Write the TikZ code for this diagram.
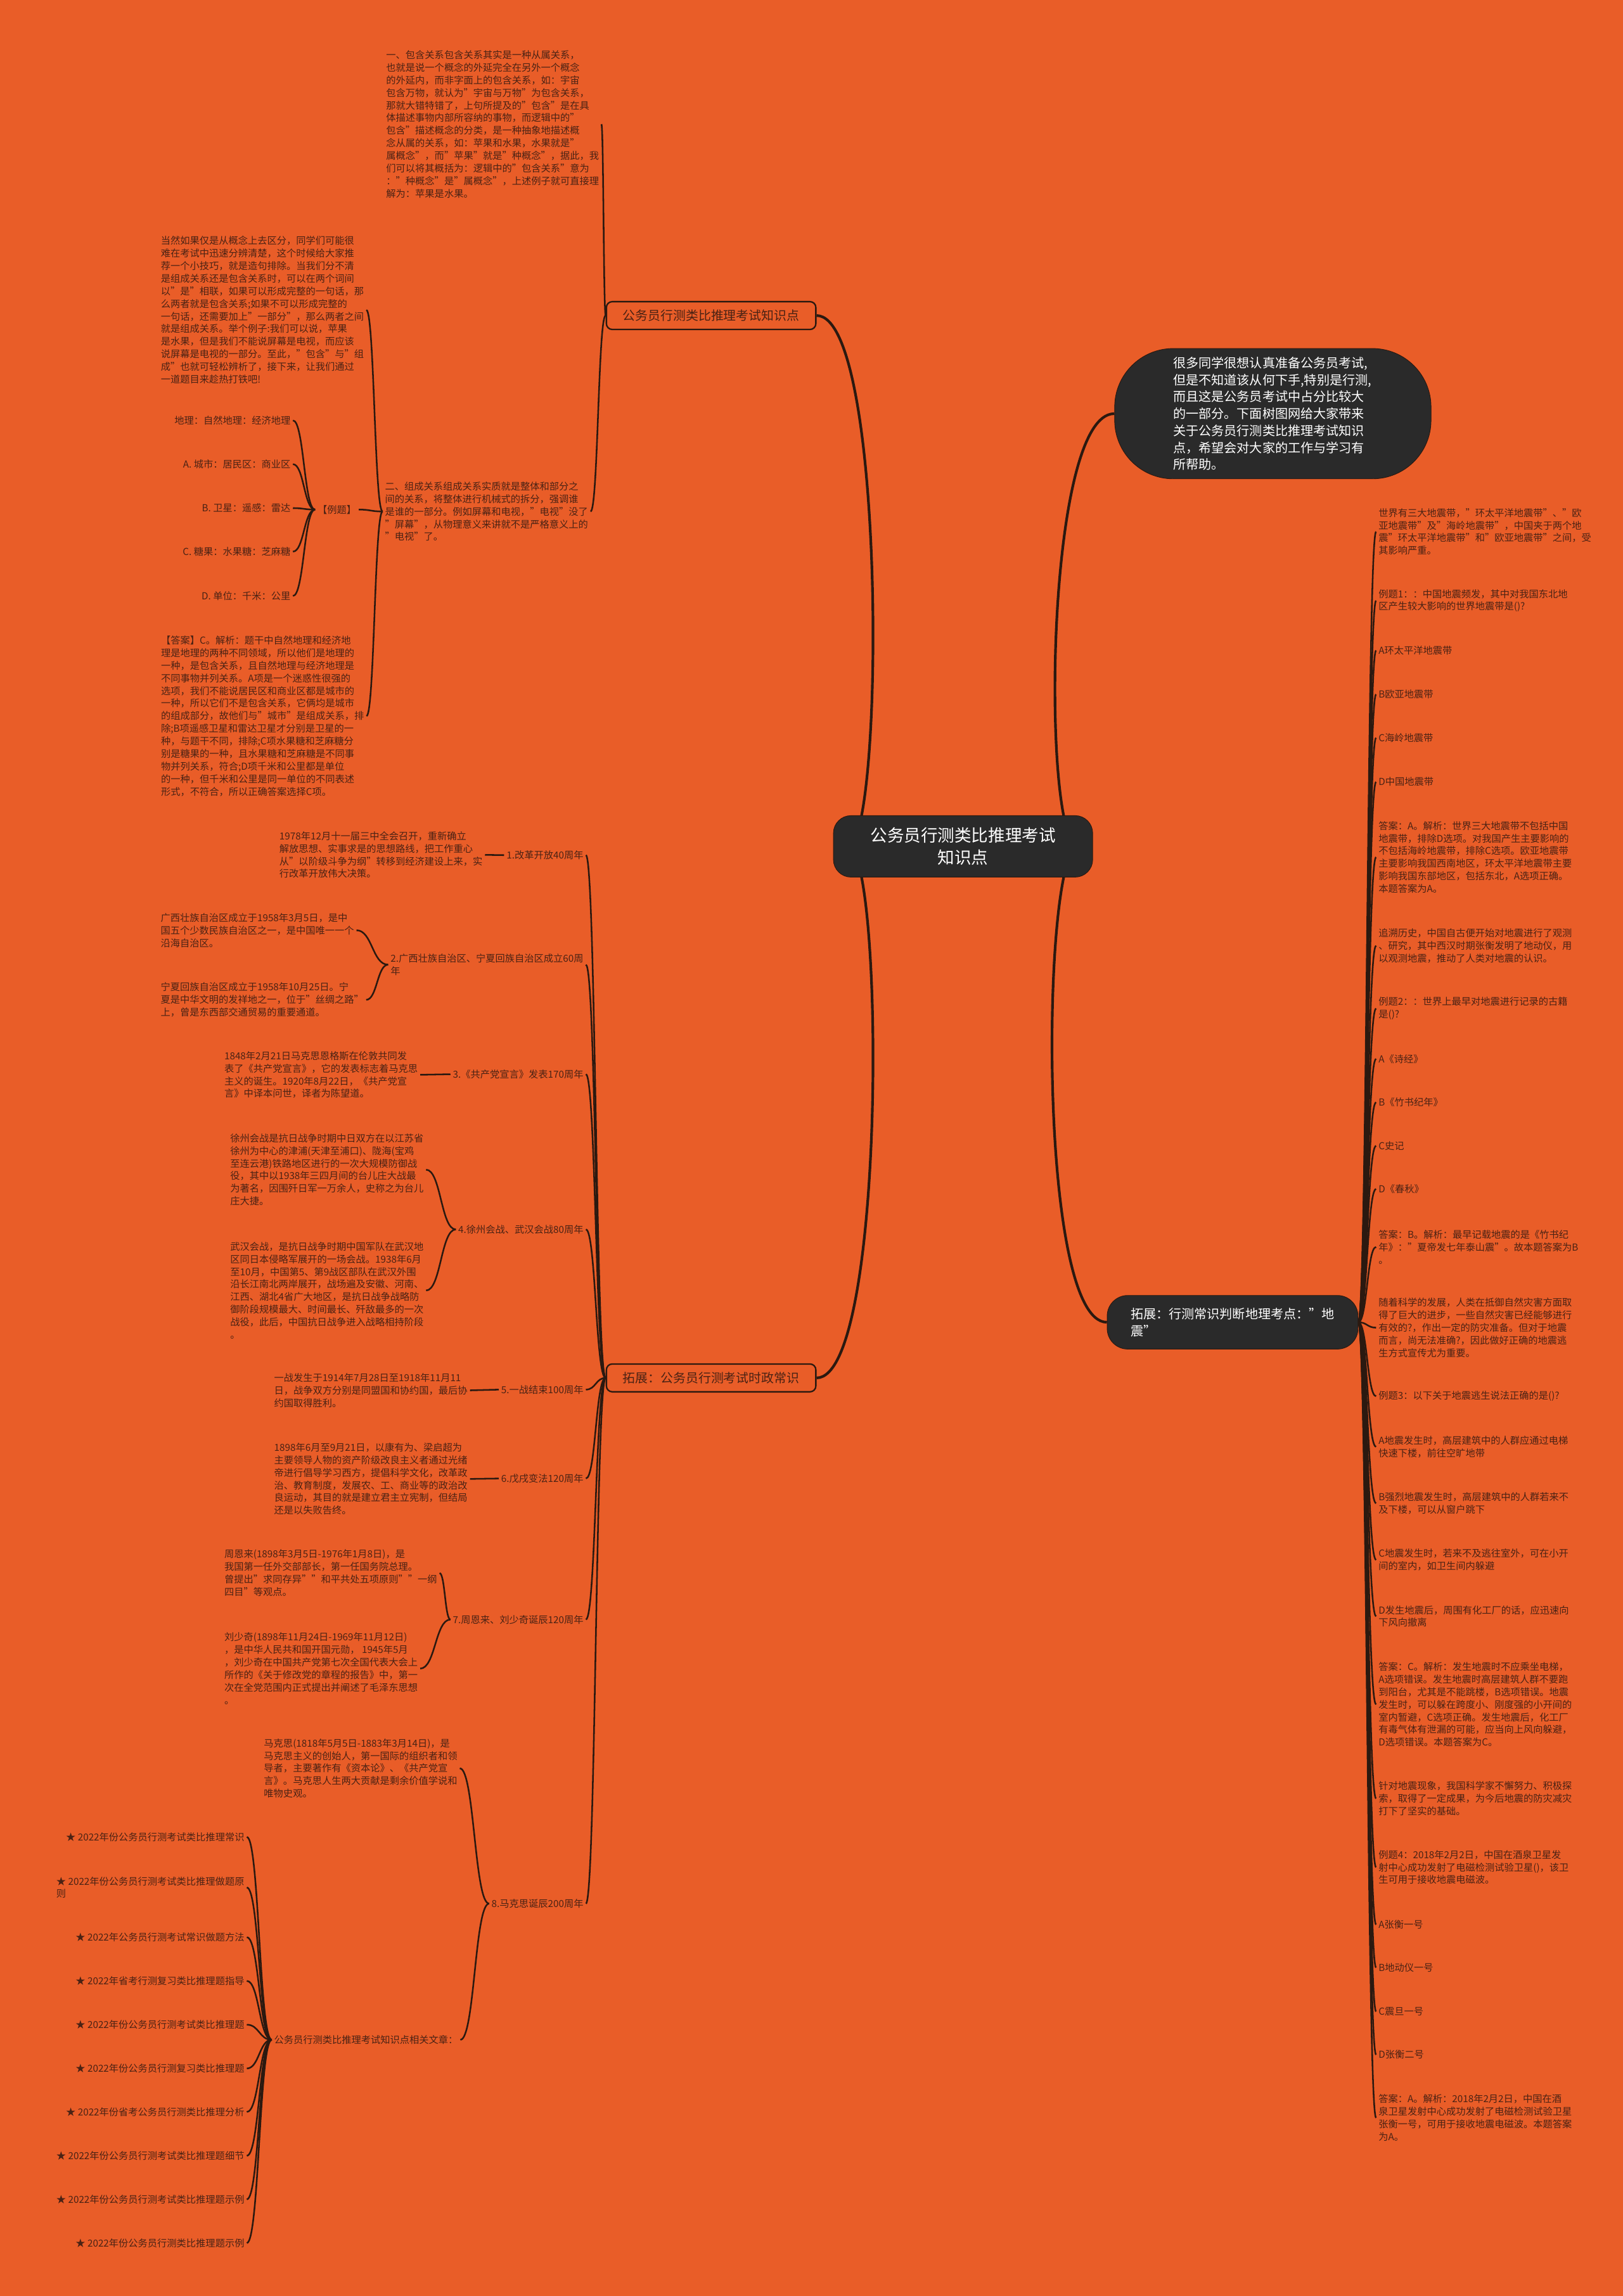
\documentclass[tikz,border=0pt]{standalone}
\usepackage{fontspec}
\setmainfont{Noto Sans CJK SC}
\usetikzlibrary{calc,backgrounds}
\definecolor{bgorange}{HTML}{E95D28}
\definecolor{linedark}{HTML}{2B1910}
\definecolor{textbrown}{HTML}{4A2214}
\definecolor{nodedark}{HTML}{2A2A2A}
\tikzset{
  rootbox/.style={draw=linedark, fill=nodedark, text=white, rounded corners=12pt, align=center,
    minimum width=177pt, minimum height=42pt, inner sep=0pt, font=\fontsize{11.5}{15}\selectfont},
  darkbox/.style={draw=linedark, fill=nodedark, text=white, align=left,
    font=\fontsize{8.7}{11.55}\selectfont},
  topicbox/.style={draw=linedark, line width=1pt, fill=bgorange, text=textbrown, rounded corners=4pt,
    minimum width=143pt, minimum height=19pt, inner sep=0pt, font=\fontsize{8.6}{10}\selectfont},
  leaf/.style={text=textbrown, align=left, inner sep=1.5pt, font=\fontsize{6.6}{8.6}\selectfont},
  trunk/.style={draw=linedark, line width=1.8pt},
  twig/.style={draw=linedark, line width=1.1pt,
    to path={.. controls ($(\tikztostart)!0.5!(\tikztostart -| \tikztotarget)$)
      and ($(\tikztotarget)!0.5!(\tikztotarget -| \tikztostart)$) .. (\tikztotarget)}}
}
\begin{document}
\begin{tikzpicture}[x=1pt, y=-1pt]
\useasboundingbox (0,0) rectangle (1108,1568);

\node[rootbox] (root) at (657.5,578) {公务员行测类比推理考试\\知识点};
\node[darkbox, rounded corners=40pt, minimum width=216pt, minimum height=89pt, text width=136pt, inner sep=0pt] (intro) at (869,282.5)
  {很多同学很想认真准备公务员考试,\\但是不知道该从何下手,特别是行测,\\而且这是公务员考试中占分比较大\\的一部分。下面树图网给大家带来\\关于公务员行测类比推理考试知识\\点，希望会对大家的工作与学习有\\所帮助。};
\node[darkbox, rounded corners=14pt, inner xsep=16pt, inner ysep=8.5pt] (quake) at (841.5,903)
  {拓展：行测常识判断地理考点："地\\震"};
\node[topicbox] (know) at (485.5,215.5) {公务员行测类比推理考试知识点};
\node[topicbox] (news) at (485.5,941) {拓展：公务员行测考试时政常识};

% 知识点
\node[leaf, anchor=west] (incl) at (262,84.8) {一、包含关系包含关系其实是一种从属关系，\\也就是说一个概念的外延完全在另外一个概念\\的外延内，而非字面上的包含关系，如：宇宙\\包含万物，就认为"宇宙与万物"为包含关系，\\那就大错特错了，上句所提及的"包含"是在具\\体描述事物内部所容纳的事物，而逻辑中的"\\包含"描述概念的分类，是一种抽象地描述概\\念从属的关系，如：苹果和水果，水果就是"\\属概念"，而"苹果"就是"种概念"，据此，我\\们可以将其概括为：逻辑中的"包含关系"意为\\："种概念"是"属概念"，上述例子就可直接理\\解为：苹果是水果。};
\node[leaf, anchor=west] (comp) at (261.2,349.3) {二、组成关系组成关系实质就是整体和部分之\\间的关系，将整体进行机械式的拆分，强调谁\\是谁的一部分。例如屏幕和电视，"电视"没了\\"屏幕"，从物理意义来讲就不是严格意义上的\\"电视"了。};
\node[leaf, anchor=west] (tip) at (108.1,211.7) {当然如果仅是从概念上去区分，同学们可能很\\难在考试中迅速分辨清楚，这个时候给大家推\\荐一个小技巧，就是造句排除。当我们分不清\\是组成关系还是包含关系时，可以在两个词间\\以"是"相联，如果可以形成完整的一句话，那\\么两者就是包含关系;如果不可以形成完整的\\一句话，还需要加上"一部分"，那么两者之间\\就是组成关系。举个例子:我们可以说，苹果\\是水果，但是我们不能说屏幕是电视，而应该\\说屏幕是电视的一部分。至此，"包含"与"组\\成"也就可轻松辨析了，接下来，让我们通过\\一道题目来趁热打铁吧!};
\node[leaf] (demo) at (230,348) {【例题】};
\node[leaf, anchor=west] (ans) at (108.2,489) {【答案】C。解析：题干中自然地理和经济地\\理是地理的两种不同领域，所以他们是地理的\\一种，是包含关系，且自然地理与经济地理是\\不同事物并列关系。A项是一个迷惑性很强的\\选项，我们不能说居民区和商业区都是城市的\\一种，所以它们不是包含关系，它俩均是城市\\的组成部分，故他们与"城市"是组成关系，排\\除;B项遥感卫星和雷达卫星才分别是卫星的一\\种，与题干不同，排除;C项水果糖和芝麻糖分\\别是糖果的一种，且水果糖和芝麻糖是不同事\\物并列关系，符合;D项千米和公里都是单位\\的一种，但千米和公里是同一单位的不同表述\\形式，不符合，所以正确答案选择C项。};
\node[leaf, anchor=east] (opt1) at (200,287.1) {地理：自然地理：经济地理};
\node[leaf, anchor=east] (opt2) at (200,317) {A. 城市：居民区：商业区};
\node[leaf, anchor=east] (opt3) at (200,347) {B. 卫星：遥感：雷达};
\node[leaf, anchor=east] (opt4) at (200,376.7) {C. 糖果：水果糖：芝麻糖};
\node[leaf, anchor=east] (opt5) at (200,407) {D. 单位：千米：公里};

% 时政常识
\node[leaf, anchor=east] (ev1) at (400,584) {1.改革开放40周年};
\node[leaf, anchor=east] (ev2) at (400,658.8) {2.广西壮族自治区、宁夏回族自治区成立60周\\年};
\node[leaf, anchor=east] (ev3) at (400,733.6) {3.《共产党宣言》发表170周年};
\node[leaf, anchor=east] (ev4) at (400,839.6) {4.徐州会战、武汉会战80周年};
\node[leaf, anchor=east] (ev5) at (400,949) {5.一战结束100周年};
\node[leaf, anchor=east] (ev6) at (400,1009.7) {6.戊戌变法120周年};
\node[leaf, anchor=east] (ev7) at (400,1106) {7.周恩来、刘少奇诞辰120周年};
\node[leaf, anchor=east] (ev8) at (400,1300) {8.马克思诞辰200周年};

\node[leaf, anchor=west] (ev1a) at (189.1,583.8) {1978年12月十一届三中全会召开，重新确立\\解放思想、实事求是的思想路线，把工作重心\\从"以阶级斗争为纲"转移到经济建设上来，实\\行改革开放伟大决策。};
\node[leaf, anchor=west] (ev2a) at (108,635.3) {广西壮族自治区成立于1958年3月5日，是中\\国五个少数民族自治区之一，是中国唯一一个\\沿海自治区。};
\node[leaf, anchor=west] (ev2b) at (108,682.8) {宁夏回族自治区成立于1958年10月25日。宁\\夏是中华文明的发祥地之一，位于"丝绸之路"\\上，曾是东西部交通贸易的重要通道。};
\node[leaf, anchor=west] (ev3a) at (151.5,734) {1848年2月21日马克思恩格斯在伦敦共同发\\表了《共产党宣言》，它的发表标志着马克思\\主义的诞生。1920年8月22日，《共产党宣\\言》中译本问世，译者为陈望道。};
\node[leaf, anchor=west] (ev4a) at (155.5,798.8) {徐州会战是抗日战争时期中日双方在以江苏省\\徐州为中心的津浦(天津至浦口)、陇海(宝鸡\\至连云港)铁路地区进行的一次大规模防御战\\役，其中以1938年三四月间的台儿庄大战最\\为著名，因围歼日军一万余人，史称之为台儿\\庄大捷。};
\node[leaf, anchor=west] (ev4b) at (155.5,881.3) {武汉会战，是抗日战争时期中国军队在武汉地\\区同日本侵略军展开的一场会战。1938年6月\\至10月，中国第5、第9战区部队在武汉外围\\沿长江南北两岸展开，战场遍及安徽、河南、\\江西、湖北4省广大地区，是抗日战争战略防\\御阶段规模最大、时间最长、歼敌最多的一次\\战役，此后，中国抗日战争进入战略相持阶段\\。};
\node[leaf, anchor=west] (ev5a) at (185.5,949.5) {一战发生于1914年7月28日至1918年11月11\\日，战争双方分别是同盟国和协约国，最后协\\约国取得胜利。};
\node[leaf, anchor=west] (ev6a) at (185.5,1010) {1898年6月至9月21日，以康有为、梁启超为\\主要领导人物的资产阶级改良主义者通过光绪\\帝进行倡导学习西方，提倡科学文化，改革政\\治、教育制度，发展农、工、商业等的政治改\\良运动，其目的就是建立君主立宪制，但结局\\还是以失败告终。};
\node[leaf, anchor=west] (ev7a) at (151.5,1074.3) {周恩来(1898年3月5日-1976年1月8日)，是\\我国第一任外交部部长，第一任国务院总理。\\曾提出"求同存异""和平共处五项原则""一纲\\四目"等观点。};
\node[leaf, anchor=west] (ev7b) at (151.5,1139.5) {刘少奇(1898年11月24日-1969年11月12日)\\，是中华人民共和国开国元勋， 1945年5月\\，刘少奇在中国共产党第七次全国代表大会上\\所作的《关于修改党的章程的报告》中，第一\\次在全党范围内正式提出并阐述了毛泽东思想\\。};
\node[leaf, anchor=west] (ev8a) at (178.5,1207.6) {马克思(1818年5月5日-1883年3月14日)，是\\马克思主义的创始人，第一国际的组织者和领\\导者，主要著作有《资本论》、《共产党宣\\言》。马克思人生两大贡献是剩余价值学说和\\唯物史观。};
\node[leaf, anchor=west] (ev8b) at (185.5,1393) {公务员行测类比推理考试知识点相关文章：};

\node[leaf, anchor=east] (lk1) at (168.5,1254.5) {★ 2022年份公务员行测考试类比推理常识};
\node[leaf, anchor=east] (lk2) at (168.5,1289) {★ 2022年份公务员行测考试类比推理做题原\\则};
\node[leaf, anchor=east] (lk3) at (168.5,1323) {★ 2022年公务员行测考试常识做题方法};
\node[leaf, anchor=east] (lk4) at (168.5,1352.8) {★ 2022年省考行测复习类比推理题指导};
\node[leaf, anchor=east] (lk5) at (168.5,1382.7) {★ 2022年份公务员行测考试类比推理题};
\node[leaf, anchor=east] (lk6) at (168.5,1412.6) {★ 2022年份公务员行测复习类比推理题};
\node[leaf, anchor=east] (lk7) at (168.5,1442.3) {★ 2022年份省考公务员行测类比推理分析};
\node[leaf, anchor=east] (lk8) at (168.5,1472.2) {★ 2022年份公务员行测考试类比推理题细节};
\node[leaf, anchor=east] (lk9) at (168.5,1502) {★ 2022年份公务员行测考试类比推理题示例};
\node[leaf, anchor=east] (lk10) at (168.5,1531.8) {★ 2022年份公务员行测类比推理题示例};

% 地震
\node[leaf, anchor=west] (q1) at (939.5,363.1) {世界有三大地震带，"环太平洋地震带"、"欧\\亚地震带"及"海岭地震带"，中国夹于两个地\\震"环太平洋地震带"和"欧亚地震带"之间，受\\其影响严重。};
\node[leaf, anchor=west] (q2) at (939.5,410.2) {例题1：：中国地震频发，其中对我国东北地\\区产生较大影响的世界地震带是()?};
\node[leaf, anchor=west] (q3) at (939.5,444.2) {A环太平洋地震带};
\node[leaf, anchor=west] (q4) at (939.5,474.2) {B欧亚地震带};
\node[leaf, anchor=west] (q5) at (939.5,503.9) {C海岭地震带};
\node[leaf, anchor=west] (q6) at (939.5,534) {D中国地震带};
\node[leaf, anchor=west] (q7) at (939.5,585.4) {答案：A。解析：世界三大地震带不包括中国\\地震带，排除D选项。对我国产生主要影响的\\不包括海岭地震带，排除C选项。欧亚地震带\\主要影响我国西南地区，环太平洋地震带主要\\影响我国东部地区，包括东北，A选项正确。\\本题答案为A。};
\node[leaf, anchor=west] (q8) at (939.5,645.8) {追溯历史，中国自古便开始对地震进行了观测\\、研究，其中西汉时期张衡发明了地动仪，用\\以观测地震，推动了人类对地震的认识。};
\node[leaf, anchor=west] (q9) at (939.5,688.7) {例题2：：世界上最早对地震进行记录的古籍\\是()?};
\node[leaf, anchor=west] (q10) at (939.5,723.1) {A《诗经》};
\node[leaf, anchor=west] (q11) at (939.5,752.8) {B《竹书纪年》};
\node[leaf, anchor=west] (q12) at (939.5,782.5) {C史记};
\node[leaf, anchor=west] (q13) at (939.5,812) {D《春秋》};
\node[leaf, anchor=west] (q14) at (939.5,851.6) {答案：B。解析：最早记载地震的是《竹书纪\\年》："夏帝发七年泰山震"。故本题答案为B\\。};
\node[leaf, anchor=west] (q15) at (939.5,906.7) {随着科学的发展，人类在抵御自然灾害方面取\\得了巨大的进步，一些自然灾害已经能够进行\\有效的?，作出一定的防灾准备。但对于地震\\而言，尚无法准确?，因此做好正确的地震逃\\生方式宣传尤为重要。};
\node[leaf, anchor=west] (q16) at (939.5,953.5) {例题3：以下关于地震逃生说法正确的是()?};
\node[leaf, anchor=west] (q17) at (939.5,988) {A地震发生时，高层建筑中的人群应通过电梯\\快速下楼，前往空旷地带};
\node[leaf, anchor=west] (q18) at (939.5,1026.6) {B强烈地震发生时，高层建筑中的人群若来不\\及下楼，可以从窗户跳下};
\node[leaf, anchor=west] (q19) at (939.5,1065.3) {C地震发生时，若来不及逃往室外，可在小开\\间的室内，如卫生间内躲避};
\node[leaf, anchor=west] (q20) at (939.5,1103.8) {D发生地震后，周围有化工厂的话，应迅速向\\下风向撤离};
\node[leaf, anchor=west] (q21) at (939.5,1164) {答案：C。解析：发生地震时不应乘坐电梯，\\A选项错误。发生地震时高层建筑人群不要跑\\到阳台，尤其是不能跳楼，B选项错误。地震\\发生时，可以躲在跨度小、刚度强的小开间的\\室内暂避，C选项正确。发生地震后，化工厂\\有毒气体有泄漏的可能，应当向上风向躲避，\\D选项错误。本题答案为C。};
\node[leaf, anchor=west] (q22) at (939.5,1228.2) {针对地震现象，我国科学家不懈努力、积极探\\索，取得了一定成果，为今后地震的防灾减灾\\打下了坚实的基础。};
\node[leaf, anchor=west] (q23) at (939.5,1275.2) {例题4：2018年2月2日，中国在酒泉卫星发\\射中心成功发射了电磁检测试验卫星()，该卫\\生可用于接收地震电磁波。};
\node[leaf, anchor=west] (q24) at (939.5,1314.3) {A张衡一号};
\node[leaf, anchor=west] (q25) at (939.5,1343.7) {B地动仪一号};
\node[leaf, anchor=west] (q26) at (939.5,1373.7) {C震旦一号};
\node[leaf, anchor=west] (q27) at (939.5,1403.2) {D张衡二号};
\node[leaf, anchor=west] (q28) at (939.5,1446.3) {答案：A。解析：2018年2月2日，中国在酒\\泉卫星发射中心成功发射了电磁检测试验卫星\\张衡一号，可用于接收地震电磁波。本题答案\\为A。};

\begin{scope}[on background layer]
  \fill[bgorange] (0,0) rectangle (1108,1568);
  \draw[trunk] ([xshift=10pt]root.west) .. controls +(25,0) and +(48,0) .. (know.east);
  \draw[trunk] ([xshift=10pt]root.west) .. controls +(25,0) and +(48,0) .. (news.east);
  \draw[trunk] ([xshift=-10pt]root.east) .. controls +(-25,0) and +(-48,0) .. (intro.west);
  \draw[trunk] ([xshift=-10pt]root.east) .. controls +(-25,0) and +(-48,0) .. (quake.west);
  \draw[twig] (know.west) to (incl.east);
  \draw[twig] (know.west) to (comp.east);
  \draw[twig] (comp.west) to (tip.east);
  \draw[twig] (comp.west) to (demo.east);
  \draw[twig] (comp.west) to (ans.east);
  \foreach \i in {1,...,5} \draw[twig] (demo.west) to (opt\i.east);
  \foreach \i in {1,...,8} \draw[twig] (news.west) to (ev\i.east);
  \draw[twig] (ev1.west) to (ev1a.east);
  \draw[twig] (ev2.west) to (ev2a.east);
  \draw[twig] (ev2.west) to (ev2b.east);
  \draw[twig] (ev3.west) to (ev3a.east);
  \draw[twig] (ev4.west) to (ev4a.east);
  \draw[twig] (ev4.west) to (ev4b.east);
  \draw[twig] (ev5.west) to (ev5a.east);
  \draw[twig] (ev6.west) to (ev6a.east);
  \draw[twig] (ev7.west) to (ev7a.east);
  \draw[twig] (ev7.west) to (ev7b.east);
  \draw[twig] (ev8.west) to (ev8a.east);
  \draw[twig] (ev8.west) to (ev8b.east);
  \foreach \i in {1,...,10} \draw[twig] (ev8b.west) to (lk\i.east);
  \foreach \i in {1,...,28} \draw[twig] (quake.east) to (q\i.west);
\end{scope}
\end{tikzpicture}
\end{document}
